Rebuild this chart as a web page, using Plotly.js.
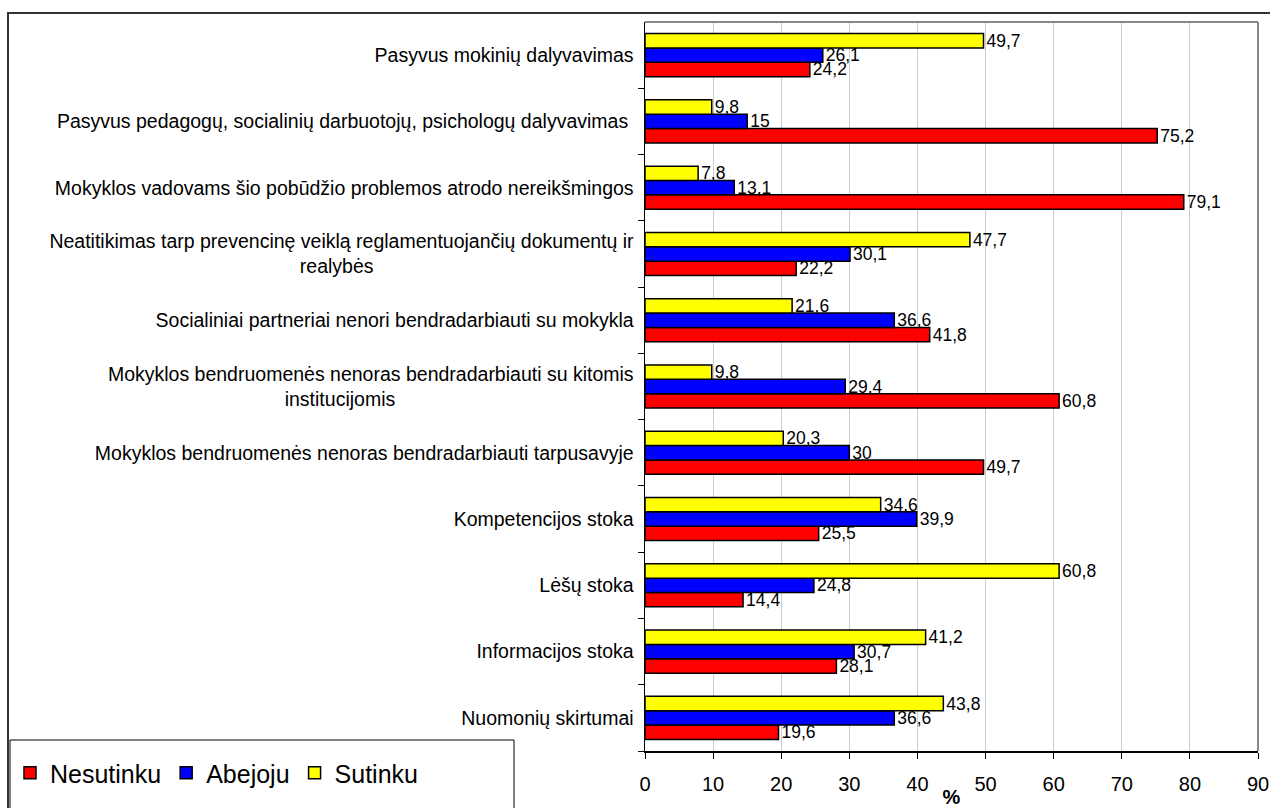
<!DOCTYPE html>
<html><head><meta charset="utf-8">
<script src="https://cdn.plot.ly/plotly-3.0.1.min.js"></script>
<style>html,body{margin:0;padding:0;background:#fff}#chart{width:1270px;height:808px}</style>
</head><body><div id="chart"></div><script>
const categories = [
  "Pasyvus mokinių dalyvavimas",
  "Pasyvus pedagogų, socialinių darbuotojų, psichologų dalyvavimas",
  "Mokyklos vadovams šio pobūdžio problemos atrodo nereikšmingos",
  "Neatitikimas tarp prevencinę veiklą reglamentuojančių dokumentų ir realybės",
  "Socialiniai partneriai nenori bendradarbiauti su mokykla",
  "Mokyklos bendruomenės nenoras bendradarbiauti su kitomis institucijomis",
  "Mokyklos bendruomenės nenoras bendradarbiauti tarpusavyje",
  "Kompetencijos stoka",
  "Lėšų stoka",
  "Informacijos stoka",
  "Nuomonių skirtumai"
];
const NB = "\u00a0";
const tickLabels = [
  "Pasyvus mokinių dalyvavimas",
  "Pasyvus pedagogų, socialinių darbuotojų, psichologų dalyvavimas" + NB,
  "Mokyklos vadovams šio pobūdžio problemos atrodo nereikšmingos",
  "Neatitikimas tarp prevencinę veiklą reglamentuojančių dokumentų ir<br>realybės" + NB.repeat(48),
  "Socialiniai partneriai nenori bendradarbiauti su mokykla",
  "Mokyklos bendruomenės nenoras bendradarbiauti su kitomis<br>institucijomis" + NB.repeat(44),
  "Mokyklos bendruomenės nenoras bendradarbiauti tarpusavyje",
  "Kompetencijos stoka",
  "Lėšų stoka",
  "Informacijos stoka",
  "Nuomonių skirtumai"
];
const seriesNames = ["Nesutinku", "Abejoju", "Sutinku"];
const nesutinku = [24.2, 75.2, 79.1, 22.2, 41.8, 60.8, 49.7, 25.5, 14.4, 28.1, 19.6];
const abejoju   = [26.1, 15,   13.1, 30.1, 36.6, 29.4, 30,   39.9, 24.8, 30.7, 36.6];
const sutinku   = [49.7, 9.8,  7.8,  47.7, 21.6, 9.8,  20.3, 34.6, 60.8, 41.2, 43.8];
const xTicks = [0, 10, 20, 30, 40, 50, 60, 70, 80, 90];
const colors = ["#ff0000", "#0000ff", "#ffff00"];

const W = 1270, H = 808, ML = 645, MR = 12, MT = 22, MB = 57;
const PW = W - ML - MR, PH = H - MT - MB;
const px2x = p => (p - ML) / PW;
const py2y = p => (H - MB - p) / PH;
const fmt = v => String(v).replace(".", ",");

const FONT = "Liberation Sans, Arial, sans-serif";
const traces = [nesutinku, abejoju, sutinku].map((vals, i) => ({
  type: "bar",
  orientation: "h",
  name: seriesNames[i],
  y: categories,
  x: vals,
  text: vals.map(fmt),
  textposition: "outside",
  textfont: {size: 17.5, color: "#000", family: FONT},
  constraintext: "none",
  cliponaxis: false,
  marker: {color: colors[i], line: {color: "#000", width: 1.5}},
  hoverinfo: "x+name"
}));

const layout = {
  width: W, height: H,
  margin: {l: ML, r: MR, t: MT, b: MB, pad: 0, autoexpand: false},
  paper_bgcolor: "#fff", plot_bgcolor: "#fff",
  font: {family: FONT, color: "#000"},
  barmode: "group", bargap: 0.35, bargroupgap: 0,
  showlegend: true,
  legend: {orientation: "h", x: px2x(10), y: py2y(750), xanchor: "left", yanchor: "top",
           font: {size: 25, family: FONT, color: "#000"}, bgcolor: "rgba(0,0,0,0)",
           traceorder: "normal"},
  xaxis: {range: [0, 90], tickvals: xTicks, ticktext: xTicks.map(String), automargin: false,
          ticks: "outside", ticklen: 6, tickcolor: "#000", tickwidth: 1,
          showline: true, linecolor: "#000", linewidth: 1.5,
          showgrid: true, gridcolor: "#cccccc", gridwidth: 1, zeroline: false,
          ticklabelstandoff: 8,
          tickfont: {size: 20, family: FONT, color: "#000"},
          title: {text: "<b>%</b>", font: {size: 20, family: FONT, color: "#000"}, standoff: 0}},
  yaxis: {type: "category", categoryorder: "array", categoryarray: categories.slice().reverse(),
          tickvals: categories, ticktext: tickLabels, tickson: "boundaries", automargin: false,
          ticks: "outside", ticklen: 6, tickcolor: "#000",
          showline: true, linecolor: "#000", linewidth: 1.5, showgrid: false, zeroline: false,
          ticklabelstandoff: 6,
          tickfont: {size: 19.5, family: FONT, color: "#000"}},
  shapes: [
    {type: "line", xref: "paper", yref: "paper", x0: 0, x1: 1, y0: 1, y1: 1, line: {color: "#888", width: 2}},
    {type: "line", xref: "paper", yref: "paper", x0: 1, x1: 1, y0: 0, y1: 1, line: {color: "#888", width: 2}},
    {type: "rect", xref: "paper", yref: "paper", x0: px2x(10), x1: px2x(514), y0: py2y(840), y1: py2y(740),
     line: {color: "#000", width: 1}, fillcolor: "rgba(0,0,0,0)"},
    {type: "rect", xref: "paper", yref: "paper", x0: px2x(8), x1: px2x(1300), y0: py2y(840), y1: py2y(13),
     line: {color: "#333", width: 2}, fillcolor: "rgba(0,0,0,0)"}
  ]
};

Plotly.newPlot("chart", traces, layout, {displayModeBar: false, staticPlot: true});
</script></body></html>
